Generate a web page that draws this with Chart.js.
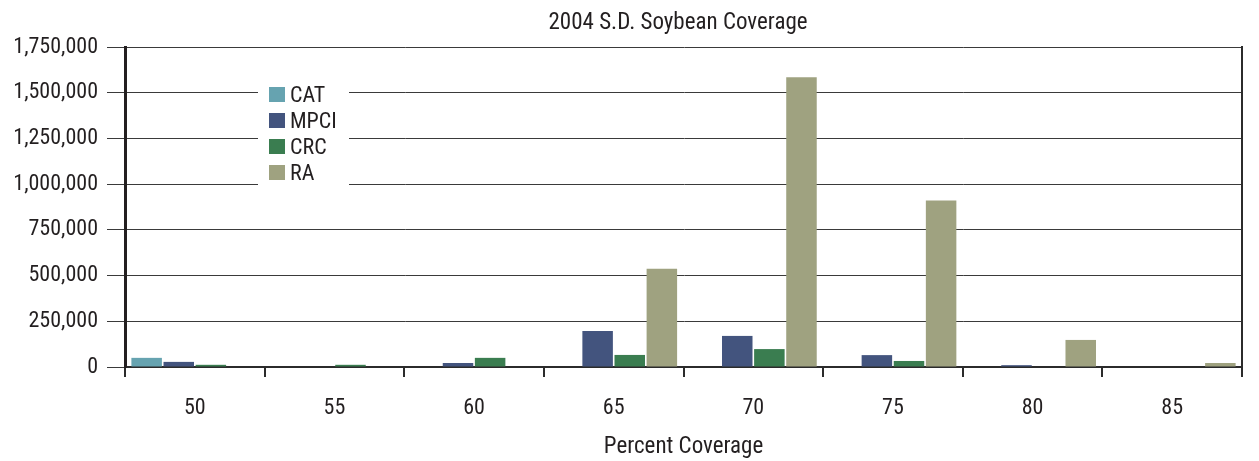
<!DOCTYPE html>
<html>
<head>
<meta charset="utf-8">
<script src="https://cdn.jsdelivr.net/npm/chart.js@4/dist/chart.umd.min.js"></script>
<style>
  html, body { margin: 0; padding: 0; background: #ffffff; }
  #wrap { width: 1259px; height: 461px; position: relative; }
</style>
</head>
<body>
<div id="wrap"><canvas id="c" width="1259" height="461"></canvas></div>
<script>
// Percent coverage levels (x categories)
const categories = ['50', '55', '60', '65', '70', '75', '80', '85'];

// Insured acres by plan type at each coverage level
const catValues  = [50000, 0, 0, 0, 0, 0, 0, 0];
const mpciValues = [28000, 0, 22000, 197000, 170000, 65000, 10000, 0];
const crcValues  = [12000, 12000, 50000, 66000, 98000, 33000, 0, 0];
const raValues   = [0, 0, 0, 537000, 1585000, 910000, 148000, 22000];

const seriesNames = ['CAT', 'MPCI', 'CRC', 'RA'];
const seriesColors = ['#66a3b0', '#43547e', '#3a7d50', '#9fa280'];

const yTicks = [0, 250000, 500000, 750000, 1000000, 1250000, 1500000, 1750000];

const FONT = "'Liberation Sans Narrow', 'Roboto Condensed', 'DejaVu Sans Condensed', sans-serif";
const INK = '#231f20';

// Title, right frame line and in-plot legend
const decorations = {
  id: 'decorations',
  afterDraw(chart) {
    const ctx = chart.ctx;
    const a = chart.chartArea;
    ctx.save();
    // right frame
    ctx.strokeStyle = '#2b2b2b';
    ctx.lineWidth = 2;
    ctx.beginPath();
    ctx.moveTo(a.right, a.top - 1);
    ctx.lineTo(a.right, a.bottom + 10);
    ctx.stroke();

    // title
    ctx.fillStyle = INK;
    ctx.font = '23px ' + FONT;
    ctx.textAlign = 'center';
    ctx.textBaseline = 'middle';
    ctx.fillText('2004 S.D. Soybean Coverage', 678, 23);

    // legend box
    const lx = 258, ly = 82, lw = 91, lh = 108;
    ctx.fillStyle = '#ffffff';
    ctx.fillRect(lx, ly, lw, lh);
    ctx.font = '22px ' + FONT;
    ctx.textAlign = 'left';
    chart.data.datasets.forEach((ds, i) => {
      const cy = 95 + i * 26;
      ctx.fillStyle = ds.backgroundColor;
      ctx.fillRect(269, cy - 8, 16, 15);
      ctx.fillStyle = INK;
      ctx.fillText(ds.label, 290, cy + 1);
    });
    ctx.restore();
  }
};

const datasets = [catValues, mpciValues, crcValues, raValues].map((vals, i) => ({
  label: seriesNames[i],
  data: vals,
  backgroundColor: seriesColors[i],
  borderWidth: 0,
  barPercentage: 0.95,
  categoryPercentage: 0.92
}));

new Chart(document.getElementById('c'), {
  type: 'bar',
  data: { labels: categories, datasets },
  options: {
    responsive: false,
    animation: false,
    layout: { padding: { left: 0, right: 17, top: 47, bottom: 0 } },
    plugins: {
      legend: { display: false },
      title: { display: false },
      tooltip: { enabled: false }
    },
    scales: {
      x: {
        offset: true,
        grid: {
          offset: true,
          drawOnChartArea: false,
          drawTicks: true,
          tickLength: 10,
          color: '#2b2b2b',
          lineWidth: 2
        },
        border: { display: true, color: '#2b2b2b', width: 2 },
        ticks: {
          color: INK,
          font: { family: FONT, size: 22 },
          padding: 18,
          maxRotation: 0
        },
        title: {
          display: true,
          text: 'Percent Coverage',
          color: INK,
          font: { family: FONT, size: 23 },
          padding: { top: 0, bottom: 0 }
        },
        afterFit(scale) { scale.height = 94; }
      },
      y: {
        min: 0,
        max: 1750000,
        afterBuildTicks(scale) { scale.ticks = yTicks.map(v => ({ value: v })); },
        grid: {
          color: '#3a3a3a',
          lineWidth: 1,
          tickLength: 18,
          drawTicks: true
        },
        border: { display: true, color: '#231f20', width: 3 },
        ticks: {
          color: INK,
          font: { family: FONT, size: 22 },
          padding: 9,
          callback: v => v.toLocaleString('en-US')
        },
        afterFit(scale) { scale.width = 125; }
      }
    }
  },
  plugins: [decorations]
});
</script>
</body>
</html>
